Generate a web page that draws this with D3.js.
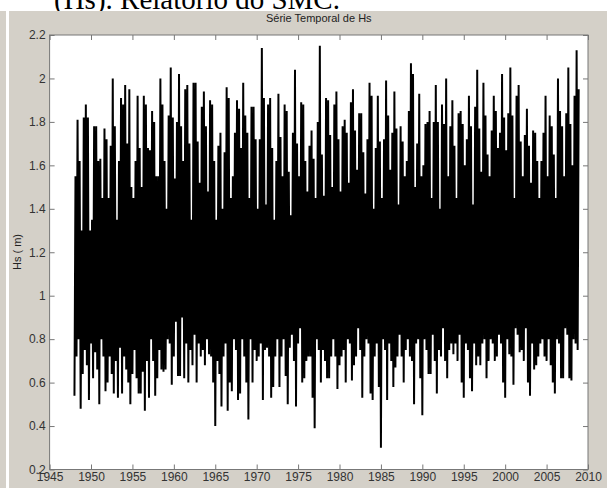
<!DOCTYPE html>
<html>
<head>
<meta charset="utf-8">
<script src="https://cdn.jsdelivr.net/npm/d3@7"></script>
<style>
  body { margin: 0; background: #fff; }
  svg { display: block; }
  .tick text { font-family: "Liberation Sans", Arial, sans-serif; font-size: 12px; fill: #333; }
  .tick line { stroke: #777; }
</style>
</head>
<body>
<div id="chart"></div>
<script>
// quarterly envelope of Hs (one high and one low per quarter)
const startYear = 1948;
const stepYears = 0.25;

const yearTicks = [1945, 1950, 1955, 1960, 1965, 1970, 1975, 1980, 1985, 1990, 1995, 2000, 2005, 2010];
const hsTicks = [0.2, 0.4, 0.6, 0.8, 1, 1.2, 1.4, 1.6, 1.8, 2, 2.2];

const hsHigh = [
  1.55, 1.81, 1.62, 1.30,  1.82, 1.88, 1.82, 1.30,  1.35, 1.78, 1.78, 1.62,  1.63, 1.45, 1.77, 1.72,  // 1948-51
  1.45, 1.69, 2.00, 1.78,  1.35, 1.62, 1.91, 1.88,  1.97, 1.70, 1.95, 1.50,  1.45, 1.62, 1.92, 1.68,  // 1952-55
  1.50, 1.92, 1.88, 1.68,  1.67, 1.85, 1.80, 1.55,  1.55, 2.00, 1.88, 1.62,  1.40, 1.83, 2.05, 1.82,  // 1956-59
  1.54, 1.80, 2.02, 1.78,  1.62, 1.95, 1.97, 1.70,  1.35, 1.98, 1.98, 1.71,  1.52, 1.87, 1.94, 1.78,  // 1960-63
  1.48, 1.90, 1.88, 1.62,  1.35, 1.69, 1.75, 1.40,  1.66, 1.96, 1.91, 1.45,  1.55, 1.75, 1.90, 1.86,  // 1964-67
  1.68, 1.98, 1.83, 1.75,  1.45, 1.87, 1.87, 1.72,  1.40, 1.72, 2.14, 1.91,  1.42, 1.88, 1.91, 1.68,  // 1968-71
  1.35, 1.62, 1.93, 1.73,  1.55, 1.88, 1.85, 1.57,  1.37, 1.75, 2.04, 1.70,  1.55, 1.89, 1.88, 1.62,  // 1972-75
  1.48, 1.69, 1.76, 1.63,  1.45, 1.80, 2.15, 1.65,  1.46, 1.91, 1.90, 1.74,  1.50, 1.88, 1.94, 1.72,  // 1976-79
  1.48, 1.78, 1.81, 1.75,  1.52, 1.89, 1.95, 1.76,  1.58, 1.84, 1.84, 1.66,  1.47, 1.72, 1.98, 1.92,  // 1980-83
  1.40, 1.68, 1.92, 1.71,  1.45, 1.72, 1.99, 1.83,  1.58, 1.75, 1.94, 1.77,  1.42, 1.78, 1.71, 1.55,  // 1984-87
  1.62, 1.85, 2.07, 2.02,  1.50, 1.70, 1.93, 1.55,  1.60, 1.79, 1.80, 1.85,  1.45, 1.80, 1.97, 1.80,  // 1988-91
  1.40, 1.88, 1.79, 2.00,  1.55, 1.78, 1.90, 1.69,  1.45, 1.84, 1.85, 1.79,  1.60, 1.72, 1.92, 1.78,  // 1992-95
  1.42, 1.87, 2.04, 1.77,  1.57, 1.98, 1.83, 1.65,  1.55, 1.76, 1.92, 1.85,  1.68, 1.75, 2.02, 1.82,  // 1996-99
  1.67, 1.84, 2.05, 1.83,  1.45, 1.92, 1.97, 1.71,  1.55, 1.74, 1.86, 1.69,  1.52, 1.76, 1.75, 1.62,  // 2000-03
  1.45, 1.62, 1.75, 1.92,  1.55, 1.83, 1.78, 1.65,  1.45, 2.00, 1.85, 1.78,  1.55, 1.84, 2.05, 1.79,  // 2004-07
  1.60, 1.92, 2.13, 1.95                                                                              // 2008
];

const hsLow = [
  0.54, 0.72, 0.80, 0.48,  0.64, 0.75, 0.68, 0.52,  0.78, 0.62, 0.74, 0.66,  0.50, 0.80, 0.72, 0.56,  // 1948-51
  0.60, 0.72, 0.64, 0.55,  0.70, 0.53, 0.76, 0.55,  0.72, 0.66, 0.60, 0.50,  0.64, 0.75, 0.62, 0.55,  // 1952-55
  0.55, 0.65, 0.47, 0.70,  0.53, 0.80, 0.70, 0.54,  0.62, 0.75, 0.66, 0.65,  0.66, 0.80, 0.78, 0.59,  // 1956-59
  0.72, 0.88, 0.63, 0.63,  0.90, 0.62, 0.78, 0.60,  0.75, 0.68, 0.82, 0.60,  0.78, 0.72, 0.75, 0.68,  // 1960-63
  0.80, 0.73, 0.72, 0.60,  0.40, 0.70, 0.64, 0.49,  0.72, 0.78, 0.47, 0.60,  0.56, 0.80, 0.75, 0.52,  // 1964-67
  0.55, 0.80, 0.72, 0.60,  0.43, 0.80, 0.60, 0.75,  0.70, 0.72, 0.78, 0.52,  0.75, 0.76, 0.72, 0.53,  // 1968-71
  0.58, 0.72, 0.80, 0.58,  0.72, 0.80, 0.63, 0.50,  0.76, 0.82, 0.70, 0.49,  0.78, 0.85, 0.60, 0.62,  // 1972-75
  0.70, 0.72, 0.72, 0.53,  0.39, 0.80, 0.75, 0.60,  0.75, 0.70, 0.62, 0.62,  0.72, 0.80, 0.72, 0.57,  // 1976-79
  0.68, 0.72, 0.75, 0.60,  0.80, 0.78, 0.61, 0.68,  0.72, 0.85, 0.75, 0.53,  0.72, 0.80, 0.78, 0.55,  // 1980-83
  0.52, 0.72, 0.78, 0.58,  0.30, 0.80, 0.75, 0.52,  0.78, 0.70, 0.58, 0.67,  0.72, 0.82, 0.72, 0.60,  // 1984-87
  0.75, 0.80, 0.72, 0.70,  0.50, 0.78, 0.80, 0.62,  0.45, 0.80, 0.75, 0.64,  0.64, 0.82, 0.70, 0.55,  // 1988-91
  0.75, 0.72, 0.85, 0.70,  0.62, 0.75, 0.78, 0.73,  0.78, 0.70, 0.82, 0.60,  0.53, 0.78, 0.75, 0.62,  // 1992-95
  0.56, 0.78, 0.68, 0.72,  0.68, 0.78, 0.80, 0.62,  0.70, 0.80, 0.78, 0.70,  0.72, 0.82, 0.78, 0.60,  // 1996-99
  0.53, 0.80, 0.73, 0.72,  0.59, 0.85, 0.82, 0.74,  0.75, 0.70, 0.85, 0.60,  0.54, 0.78, 0.66, 0.68,  // 2000-03
  0.72, 0.78, 0.80, 0.72,  0.70, 0.80, 0.68, 0.60,  0.55, 0.80, 0.78, 0.62,  0.62, 0.85, 0.82, 0.62,  // 2004-07
  0.61, 0.80, 0.78, 0.75                                                                              // 2008
];

let width = 607;
let height = 488;

let svg = d3.select("#chart").append("svg")
  .attr("width", width)
  .attr("height", height);

// caption of the document page, cut by the figure window
svg.append("text")
  .attr("x", 54)
  .attr("y", 9)
  .style("font-family", "'Liberation Serif', 'Times New Roman', serif")
  .style("font-size", "29px")
  .attr("fill", "#000")
  .text("(Hs). Relatório do SMC.");

// figure window background
svg.append("rect").attr("x", 0).attr("y", 11).attr("width", 6).attr("height", height - 11).attr("fill", "#d4d0c8");
svg.append("rect").attr("x", 9).attr("y", 11).attr("width", width - 9).attr("height", height - 11).attr("fill", "#d4d0c8");

let plotLeft = 49.6, plotRight = 588, plotTop = 35, plotBottom = 469.5;

let xScale = d3.scaleLinear()
  .domain([1945, 2010])
  .range([plotLeft, plotRight]);

let yScale = d3.scaleLinear()
  .domain([0.2, 2.2])
  .range([plotBottom, plotTop]);

svg.append("rect")
  .attr("x", plotLeft).attr("y", plotTop)
  .attr("width", plotRight - plotLeft).attr("height", plotBottom - plotTop)
  .attr("fill", "#fff");

svg.append("clipPath").attr("id", "plotClip")
  .append("rect")
  .attr("x", plotLeft).attr("y", plotTop)
  .attr("width", plotRight - plotLeft).attr("height", plotBottom - plotTop);

// zigzag low -> high for every quarter, like the dense raw record
let points = [];
hsHigh.forEach(function(h, i) {
  let t = startYear + i * stepYears;
  points.push([t, hsLow[i]]);
  points.push([t + stepYears / 2, h]);
});

let valueline = d3.line()
  .x(function(d) { return xScale(d[0]); })
  .y(function(d) { return yScale(d[1]); });

svg.append("path")
  .attr("d", valueline(points))
  .attr("clip-path", "url(#plotClip)")
  .attr("fill", "none")
  .attr("stroke", "#000")
  .attr("stroke-width", 2)
  .attr("stroke-linejoin", "bevel");

// axes, ticks pointing inwards on all four sides
let xAxis = d3.axisBottom(xScale).tickValues(yearTicks).tickSizeInner(-5).tickSizeOuter(0).tickPadding(3).tickFormat(d3.format("d"));
let yAxis = d3.axisLeft(yScale).tickValues(hsTicks).tickSizeInner(-5).tickSizeOuter(0).tickPadding(4).tickFormat(d3.format("~g"));
let xTop = d3.axisTop(xScale).tickValues(yearTicks).tickSizeInner(-5).tickSizeOuter(0).tickFormat("");
let yRight = d3.axisRight(yScale).tickValues(hsTicks).tickSizeInner(-5).tickSizeOuter(0).tickFormat("");

svg.append("g").attr("transform", "translate(0," + plotBottom + ")").call(xAxis);
svg.append("g").attr("transform", "translate(" + plotLeft + ",0)").call(yAxis);
svg.append("g").attr("transform", "translate(0," + plotTop + ")").call(xTop);
svg.append("g").attr("transform", "translate(" + plotRight + ",0)").call(yRight);
svg.selectAll(".domain").remove();

svg.append("rect")
  .attr("x", plotLeft).attr("y", plotTop)
  .attr("width", plotRight - plotLeft).attr("height", plotBottom - plotTop)
  .attr("fill", "none")
  .attr("stroke", "#777")
  .attr("stroke-width", 1);

svg.append("text")
  .attr("x", (plotLeft + plotRight) / 2)
  .attr("y", 22)
  .attr("text-anchor", "middle")
  .style("font-family", "'Liberation Sans', Arial, sans-serif")
  .style("font-size", "11px")
  .attr("fill", "#222")
  .text("Série Temporal de Hs");

svg.append("text")
  .attr("transform", "translate(21," + 252 + ") rotate(-90)")
  .attr("text-anchor", "middle")
  .style("font-family", "'Liberation Sans', Arial, sans-serif")
  .style("font-size", "11px")
  .attr("fill", "#222")
  .text("Hs ( m)");
</script>
</body>
</html>
